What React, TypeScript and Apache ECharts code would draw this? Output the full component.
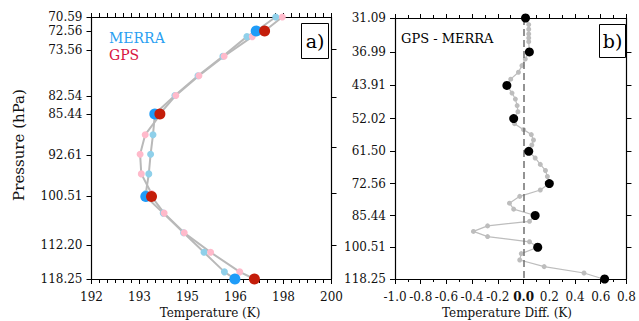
import React, { useEffect, useRef } from 'react';
import * as echarts from 'echarts';

// ---------- Panel a) : temperature profiles ----------
const smallLevelP = [70.59, 73.37, 76.26, 79.26, 82.38, 85.63, 89.0, 92.5, 96.14, 99.93, 103.86, 107.95, 112.2, 116.6];
const merraSmallT = [198.14, 197.18, 196.38, 195.55, 194.78, 194.11, 194.05, 193.97, 193.91, 193.81, 194.39, 195.07, 195.75, 196.43];
const gpsSmallT = [198.36, 197.36, 196.42, 195.58, 194.81, 194.28, 193.79, 193.62, 193.66, 194.0, 194.42, 195.09, 195.97, 196.94];

const gpsLevelP = [72.56, 85.44, 100.51, 118.25];
const merraBigT = [197.49, 194.11, 193.81, 196.78];
const gpsBigT = [197.77, 194.28, 194.0, 197.43];

// left axis tick labels (text) and where they sit on the pressure scale
const leftTickText = ['70.59', '72.56', '73.56', '82.54', '85.44', '92.61', '100.51', '112.20', '118.25'];
const leftTickAt = [70.59, 72.56, 75.34, 82.54, 85.44, 92.61, 100.51, 110.6, 118.25];
const leftRightTicksAt = [75.19, 82.63, 91.19, 99.82, 110.6];

// ---------- Panel b) : GPS - MERRA ----------
const diffP = [31.09, 32.15, 32.93, 33.73, 34.43, 35.09, 36.99, 38.35, 39.67, 41.04, 42.52, 43.91, 45.65, 47.08, 48.68, 50.24, 52.02, 53.39, 55.05, 56.47, 58.04, 59.56, 61.5, 63.65, 65.77, 67.85, 69.99, 72.56, 74.97, 77.46, 80.21, 82.7, 85.44, 88.01, 90.1, 92.69, 95.18, 97.74, 100.51, 103.83, 107.27, 110.99, 114.66, 118.25];
const diffK = [0.02, 0.04, 0.04, 0.04, 0.04, 0.04, 0.045, 0.013, -0.013, -0.04, -0.1, -0.13, -0.09, -0.064, -0.05, -0.044, -0.077, -0.07, 0.0, 0.06, 0.077, 0.064, 0.04, 0.09, 0.13, 0.17, 0.185, 0.2, 0.13, -0.03, -0.11, -0.077, 0.09, 0.046, -0.28, -0.39, -0.28, 0.046, 0.11, -0.018, -0.03, 0.16, 0.47, 0.62];

const gpsDiffP = [31.09, 36.99, 43.91, 52.02, 61.5, 72.56, 85.44, 100.51, 118.25];
const gpsDiffK = [0.015, 0.045, -0.13, -0.077, 0.04, 0.2, 0.09, 0.11, 0.63];
const rightTickText = ['31.09', '36.99', '43.91', '52.02', '61.50', '72.56', '85.44', '100.51', '118.25'];

const FONT = 'DejaVu Serif';
const ln = Math.log;

function profile(ps: number[], ts: number[], bp: number[], bt: number[]) {
  const pts = ps.map((p, i) => [ts[i], p]).concat(bp.map((p, i) => [bt[i], p]));
  pts.sort((a, b) => a[1] - b[1]);
  return pts.map(([t, p]) => [t, ln(p)]);
}

export default function App() {
  const ref = useRef<HTMLDivElement>(null);
  useEffect(() => {
    if (!ref.current) return;
    const chart = echarts.init(ref.current, null, { renderer: 'svg' });

    const axisLine = { show: true, onZero: false, lineStyle: { color: '#000', width: 1.2 } };
    const tickStyle = { color: '#000', width: 1 };
    const labelFont = { fontFamily: FONT, fontSize: 12, color: '#111' };

    const findLabel = (at: number[], txt: string[]) => (v: number) => {
      const i = at.findIndex((p) => Math.abs(ln(p) - v) < 1e-6);
      return i >= 0 ? txt[i] : '';
    };

    const option: any = {
      animation: false,
      textStyle: { fontFamily: FONT },
      grid: [
        { left: 91.5, top: 17, width: 240, height: 262 },
        { left: 395, top: 18, width: 234, height: 261 },
      ],
      xAxis: [
        {
          gridIndex: 0, type: 'value', position: 'bottom', min: 192, max: 200, interval: 1.6,
          axisLine, splitLine: { show: false },
          axisTick: { show: true, inside: false, length: 5, lineStyle: tickStyle },
          minorTick: { show: true, splitNumber: 6, length: 4, lineStyle: tickStyle },
          axisLabel: { ...labelFont, margin: 12, formatter: (v: number) => String(Math.floor(v + 1e-9)) },
        },
        {
          gridIndex: 0, type: 'value', position: 'top', min: 192, max: 200, interval: 1.6,
          axisLine, splitLine: { show: false },
          axisTick: { show: true, inside: false, length: 4, lineStyle: tickStyle },
          minorTick: { show: true, splitNumber: 6, length: 4, lineStyle: tickStyle },
          axisLabel: { show: false },
        },
        {
          gridIndex: 1, type: 'value', position: 'bottom', min: -1, max: 0.8, interval: 0.2,
          axisLine, splitLine: { show: false },
          axisTick: { show: true, inside: false, length: 5, lineStyle: tickStyle },
          minorTick: { show: true, splitNumber: 2, length: 3, lineStyle: tickStyle },
          axisLabel: {
            ...labelFont, margin: 12,
            formatter: (v: number) => (Math.abs(v) < 1e-9 ? '{b|0.0}' : v.toFixed(1)),
            rich: { b: { ...labelFont, fontWeight: 'bold' } },
          },
        },
        {
          gridIndex: 1, type: 'value', position: 'top', min: -1, max: 0.8, interval: 0.2,
          axisLine, splitLine: { show: false },
          axisTick: { show: true, inside: false, length: 4, lineStyle: tickStyle },
          minorTick: { show: true, splitNumber: 2, length: 3, lineStyle: tickStyle },
          axisLabel: { show: false },
        },
      ],
      yAxis: [
        {
          gridIndex: 0, type: 'value', position: 'left', inverse: true,
          min: ln(70.59), max: ln(118.25), axisLine, splitLine: { show: false },
          axisTick: { show: true, inside: false, length: 5, lineStyle: tickStyle, customValues: leftTickAt.map(ln) },
          axisLabel: { ...labelFont, margin: 9, customValues: leftTickAt.map(ln), formatter: findLabel(leftTickAt, leftTickText) },
        },
        {
          gridIndex: 0, type: 'value', position: 'right', inverse: true,
          min: ln(70.59), max: ln(118.25), axisLine, splitLine: { show: false },
          axisTick: { show: true, inside: false, length: 5, lineStyle: tickStyle, customValues: leftRightTicksAt.map(ln) },
          axisLabel: { show: false },
        },
        {
          gridIndex: 1, type: 'value', position: 'left', inverse: true,
          min: ln(31.09), max: ln(118.25), axisLine, splitLine: { show: false },
          axisTick: { show: true, inside: false, length: 5, lineStyle: tickStyle, customValues: gpsDiffP.map(ln) },
          axisLabel: { ...labelFont, margin: 9, customValues: gpsDiffP.map(ln), formatter: findLabel(gpsDiffP, rightTickText) },
        },
        {
          gridIndex: 1, type: 'value', position: 'right', inverse: true,
          min: ln(31.09), max: ln(118.25), axisLine, splitLine: { show: false },
          axisTick: { show: true, inside: false, length: 5, lineStyle: tickStyle, customValues: gpsDiffP.slice(1, -1).map(ln) },
          axisLabel: { show: false },
        },
      ],
      series: [
        {
          type: 'line', xAxisIndex: 0, yAxisIndex: 0, data: profile(smallLevelP, merraSmallT, gpsLevelP, merraBigT),
          symbol: 'none', lineStyle: { color: '#b9b9b9', width: 2 }, z: 2,
        },
        {
          type: 'line', xAxisIndex: 0, yAxisIndex: 0, data: profile(smallLevelP, gpsSmallT, gpsLevelP, gpsBigT),
          symbol: 'none', lineStyle: { color: '#b9b9b9', width: 2 }, z: 2,
        },
        {
          type: 'scatter', xAxisIndex: 0, yAxisIndex: 0, data: smallLevelP.map((p, i) => [merraSmallT[i], ln(p)]),
          symbolSize: 7, itemStyle: { color: '#8fd0ea', opacity: 1 }, z: 3,
        },
        {
          type: 'scatter', xAxisIndex: 0, yAxisIndex: 0, data: smallLevelP.map((p, i) => [gpsSmallT[i], ln(p)]),
          symbolSize: 7, itemStyle: { color: '#ffbacb', opacity: 1 }, z: 4,
        },
        {
          type: 'scatter', xAxisIndex: 0, yAxisIndex: 0, data: gpsLevelP.map((p, i) => [merraBigT[i], ln(p)]),
          symbolSize: 11, itemStyle: { color: '#1f9cf8', opacity: 1 }, z: 5,
        },
        {
          type: 'scatter', xAxisIndex: 0, yAxisIndex: 0, data: gpsLevelP.map((p, i) => [gpsBigT[i], ln(p)]),
          symbolSize: 11, itemStyle: { color: '#c41d0a', opacity: 1 }, z: 6,
        },
        {
          type: 'line', xAxisIndex: 2, yAxisIndex: 2, data: diffP.map((p, i) => [diffK[i], ln(p)]),
          symbol: 'circle', symbolSize: 5, showSymbol: true,
          itemStyle: { color: '#bdbdbd' }, lineStyle: { color: '#bdbdbd', width: 1.2 }, z: 3,
          markLine: {
            silent: true, symbol: 'none', label: { show: false },
            lineStyle: { type: [7, 4], color: '#707070', width: 1.5 },
            data: [{ xAxis: 0 }],
          },
        },
        {
          type: 'scatter', xAxisIndex: 2, yAxisIndex: 2, data: gpsDiffP.map((p, i) => [gpsDiffK[i], ln(p)]),
          symbolSize: 9, itemStyle: { color: '#000', opacity: 1 }, z: 5,
        },
      ],
      graphic: [
        { type: 'text', x: 109, y: 38, style: { text: 'MERRA', fill: '#2a9ff2', fontFamily: FONT, fontSize: 14, verticalAlign: 'middle' } },
        { type: 'text', x: 109, y: 55, style: { text: 'GPS', fill: '#d8153f', fontFamily: FONT, fontSize: 14, verticalAlign: 'middle' } },
        { type: 'text', x: 401, y: 38, style: { text: 'GPS - MERRA', fill: '#000', fontFamily: FONT, fontSize: 13, verticalAlign: 'middle' } },
        { type: 'rect', shape: { x: 301.5, y: 23.5, width: 27, height: 35 }, style: { fill: '#fff', stroke: '#000', lineWidth: 1 }, z: 10 },
        { type: 'text', x: 315, y: 41, style: { text: 'a)', fill: '#000', fontFamily: FONT, fontSize: 19, align: 'center', verticalAlign: 'middle' }, z: 11 },
        { type: 'rect', shape: { x: 599.5, y: 24.5, width: 26, height: 33 }, style: { fill: '#fff', stroke: '#000', lineWidth: 1 }, z: 10 },
        { type: 'text', x: 612.5, y: 41, style: { text: 'b)', fill: '#000', fontFamily: FONT, fontSize: 19, align: 'center', verticalAlign: 'middle' }, z: 11 },
        { type: 'text', x: 210, y: 313, style: { text: 'Temperature (K)', fill: '#111', fontFamily: FONT, fontSize: 12, align: 'center', verticalAlign: 'middle' } },
        { type: 'text', x: 507, y: 313, style: { text: 'Temperature Diff. (K)', fill: '#111', fontFamily: FONT, fontSize: 12, align: 'center', verticalAlign: 'middle' } },
        { type: 'text', x: 19, y: 145, rotation: Math.PI / 2, style: { text: 'Pressure (hPa)', fill: '#111', fontFamily: FONT, fontSize: 15, align: 'center', verticalAlign: 'middle' } },
      ],
    };
    chart.setOption(option);
    return () => chart.dispose();
  }, []);
  return <div ref={ref} style={{ position: 'absolute', left: 0, top: 0, width: 639, height: 321, background: '#fff' }} />;
}
